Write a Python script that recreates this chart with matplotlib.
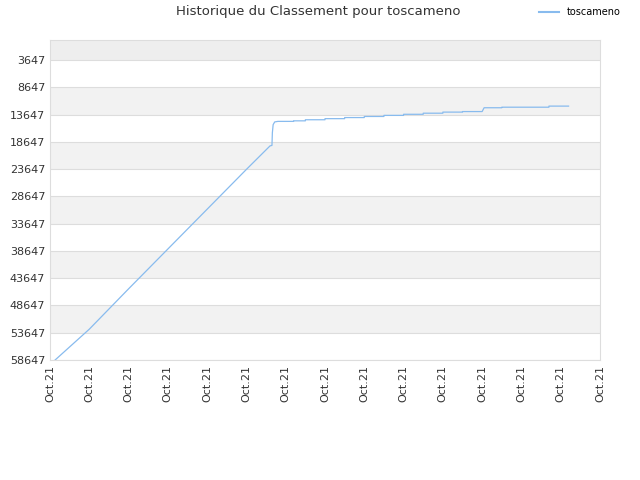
import numpy as np
import matplotlib.pyplot as plt

# x in tick units (0..14), y = ranking
xs = [0.13, 1.0, 2.0, 3.0, 4.0, 5.0, 5.6, 5.65, 5.66, 5.68, 5.72, 5.8, 6.2, 6.2, 6.5, 6.5, 7.0, 7.0, 7.5, 7.5, 8.0, 8.0, 8.5, 8.5, 9.0, 9.0, 9.5, 9.5, 10.0, 10.0, 10.5, 10.5, 11.0, 11.05, 11.5, 11.5, 12.7, 12.7, 13.2]
ys = [58647, 53000, 45600, 38300, 31000, 23700, 19400, 19300, 17000, 15500, 15000, 14900, 14900, 14800, 14800, 14600, 14600, 14400, 14400, 14200, 14200, 14000, 14000, 13800, 13800, 13600, 13600, 13400, 13400, 13200, 13200, 13100, 13100, 12400, 12400, 12300, 12300, 12100, 12100]
yticks = [3647, 8647, 13647, 18647, 23647, 28647, 33647, 38647, 43647, 48647, 53647, 58647]

fig = plt.figure(figsize=(6.4, 4.8), dpi=100)
ax = fig.add_axes([50/640, 120/480, 550/640, 320/480])
ax.set_xlim(0, 14)
ax.set_ylim(58647, -20)
# alternating bands
edges = [-20] + yticks
for i in range(len(edges) - 1):
    if i % 2 == 0:
        c = "#eeeeee" if i == 0 else "#f2f2f2"
        ax.axhspan(edges[i], edges[i + 1], color=c, lw=0, zorder=0)
ax.plot(xs, ys, color="#88bbee", lw=0.9, zorder=2)
ax.set_yticks(yticks)
ax.set_yticklabels([str(v) for v in yticks])
ax.set_xticks(range(15))
ax.set_xticklabels(["Oct.21"] * 15, rotation=90)
ax.tick_params(labelsize=8, colors="#333333", length=0)
ax.grid(axis="y", color="#dddddd", lw=0.8)
for s in ax.spines.values():
    s.set_color("#dddddd")
fig.text(318/640, 1 - 12/480, "Historique du Classement pour toscameno", fontsize=9.5,
         color="#333333", ha="center", va="center")
fig.legend(handles=ax.plot([], [], color="#88bbee", label="toscameno"), loc="center",
           bbox_to_anchor=(580/640, 1 - 12/480), frameon=False, fontsize=7)
fig.savefig("out.png")
